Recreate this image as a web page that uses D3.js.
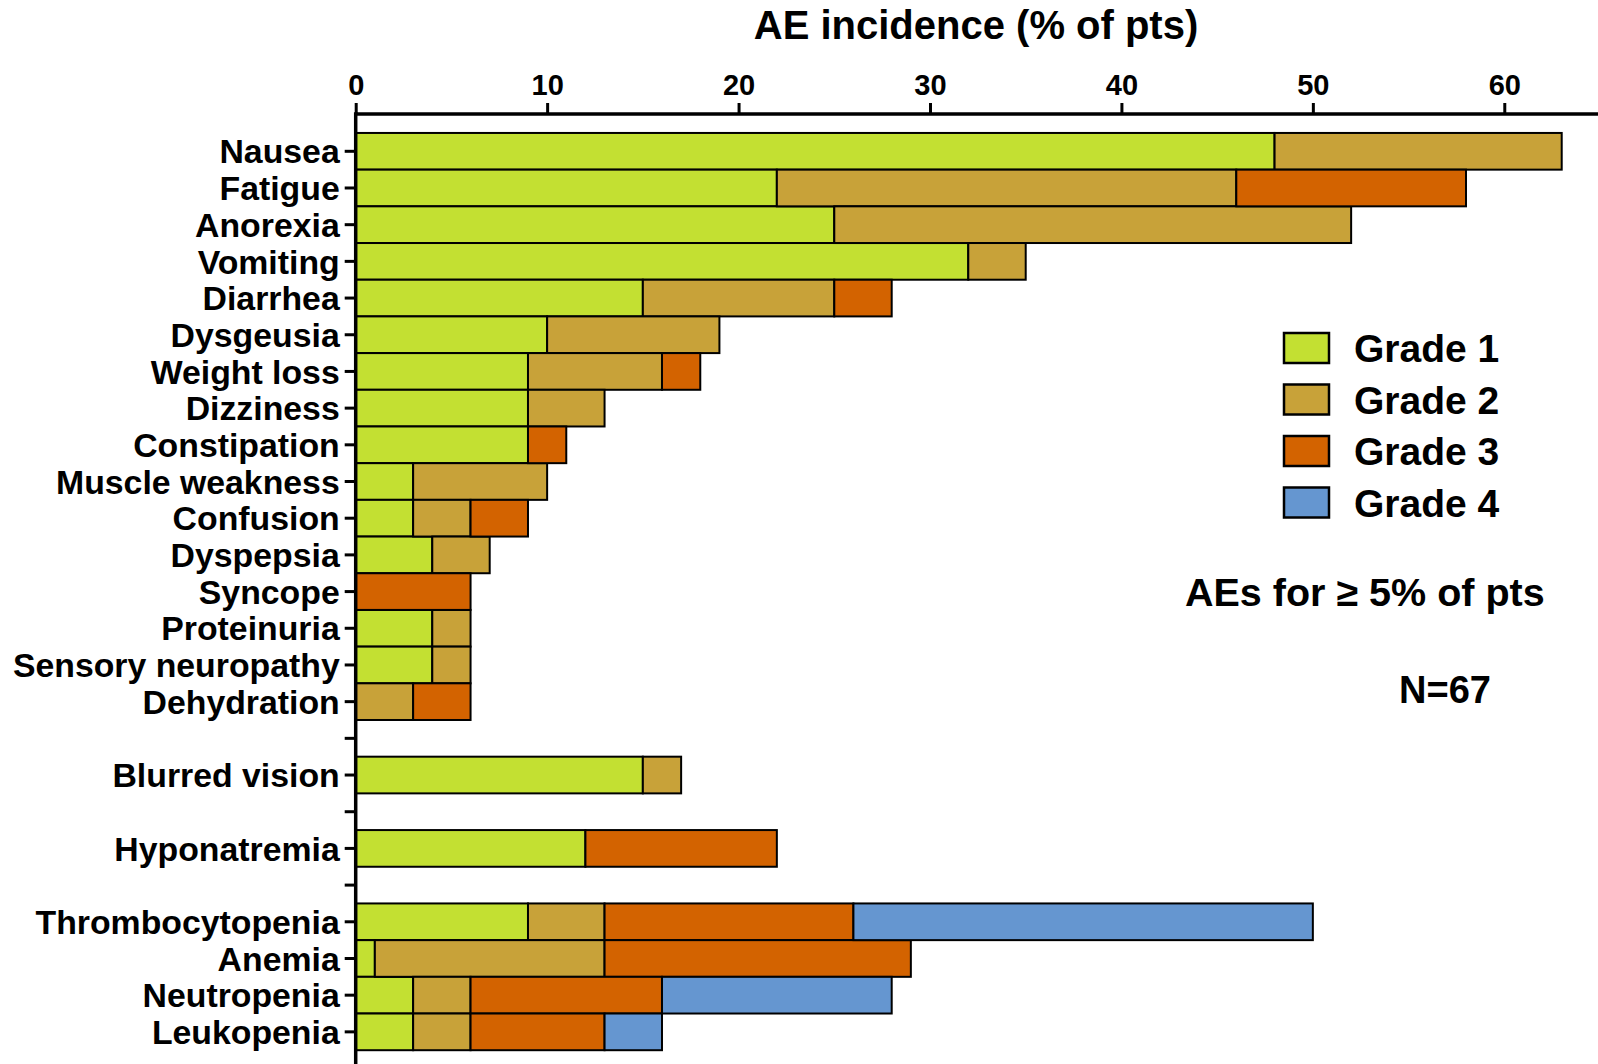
<!DOCTYPE html>
<html>
<head>
<meta charset="utf-8">
<script src="https://cdn.jsdelivr.net/npm/d3@7"></script>
<style>
  html, body { margin: 0; padding: 0; background: #fff; }
  svg { display: block; }
  text { font-family: "Liberation Sans", Arial, Helvetica, sans-serif; font-weight: bold; fill: #000; }
</style>
</head>
<body>
<svg id="chart" width="1598" height="1064"></svg>
<script>
// ---- data ----
const categories = ["Nausea","Fatigue","Anorexia","Vomiting","Diarrhea","Dysgeusia","Weight loss","Dizziness",
  "Constipation","Muscle weakness","Confusion","Dyspepsia","Syncope","Proteinuria","Sensory neuropathy",
  "Dehydration","Blurred vision","Hyponatremia","Thrombocytopenia","Anemia","Neutropenia","Leukopenia"];
// a blank axis slot follows these categories
const gapAfter = ["Dehydration","Blurred vision","Hyponatremia"];
const grade1 = [48,22,25,32,15,10,9,9,9,3,3,4,0,4,4,0,15,12,9,1,3,3];
const grade2 = [15,24,27,3,10,9,7,4,0,7,3,3,0,2,2,3,2,0,4,12,3,3];
const grade3 = [0,12,0,0,3,0,2,0,2,0,3,0,6,0,0,3,0,10,13,16,10,7];
const grade4 = [0,0,0,0,0,0,0,0,0,0,0,0,0,0,0,0,0,0,24,0,12,3];
const seriesNames = ["Grade 1","Grade 2","Grade 3","Grade 4"];
const colors = ["#c3e032","#c8a239","#d36300","#6596d0"];
const xTicks = [0,10,20,30,40,50,60];
const title = "AE incidence (% of pts)";
const note1 = "AEs for \u2265 5% of pts";
const note2 = "N=67";

// ---- build table ----
const gradeArrays = [grade1, grade2, grade3, grade4];
const rows = categories.map((c, i) => {
  const r = {cat: c};
  seriesNames.forEach((s, k) => r[s] = gradeArrays[k][i]);
  return r;
});
const slots = [];
categories.forEach((c, i) => {
  slots.push(c);
  if (gapAfter.includes(c)) slots.push("__gap" + i);
});

const svg = d3.select("#chart");
const x0 = 355.7, axisY = 114;
const slotH = 36.69, firstCenter = 151.3;

const x = d3.scaleLinear().domain([0, 65]).range([x0, 1600]);
const y = d3.scaleBand().domain(slots)
  .range([firstCenter - slotH / 2, firstCenter - slotH / 2 + slotH * slots.length])
  .paddingInner(0).paddingOuter(0);

const stack = d3.stack().keys(seriesNames)(rows);

// bars
svg.append("g").selectAll("g").data(stack).join("g")
  .attr("fill", (d, i) => colors[i])
  .selectAll("rect").data(d => d.filter(p => p[1] - p[0] > 0)).join("rect")
  .attr("x", d => x(d[0]))
  .attr("width", d => x(d[1]) - x(d[0]))
  .attr("y", d => y(d.data.cat))
  .attr("height", y.bandwidth())
  .attr("stroke", "#000")
  .attr("stroke-width", 2);

// top x axis
const xAxis = d3.axisTop(x).tickValues(xTicks).tickSize(11).tickSizeOuter(0).tickPadding(8);
const gx = svg.append("g").attr("transform", `translate(0,${axisY})`).call(xAxis);
gx.select(".domain").remove();
gx.append("line").attr("x1", x0).attr("x2", 1598).attr("y1", 0).attr("y2", 0)
  .attr("stroke", "#000").attr("stroke-width", 3.5);
gx.selectAll(".tick line").attr("stroke", "#000").attr("stroke-width", 3);
gx.selectAll(".tick text").attr("font-size", 29).attr("fill", "#000")
  .attr("font-family", '"Liberation Sans", Arial, sans-serif').attr("font-weight", "bold");

// left y axis
const yAxis = d3.axisLeft(y).tickSize(11).tickSizeOuter(0).tickPadding(5)
  .tickFormat(d => d.startsWith("__gap") ? "" : d);
const gy = svg.append("g").attr("transform", `translate(${x0},0)`).call(yAxis);
gy.select(".domain").remove();
gy.append("line").attr("x1", 0).attr("x2", 0).attr("y1", axisY - 1.75).attr("y2", 1064)
  .attr("stroke", "#000").attr("stroke-width", 3.5);
gy.selectAll(".tick line").attr("stroke", "#000").attr("stroke-width", 3);
gy.selectAll(".tick text").attr("font-size", 33.8).attr("fill", "#000").attr("dy", "0.36em")
  .attr("font-family", '"Liberation Sans", Arial, sans-serif').attr("font-weight", "bold");

// title
svg.append("text").attr("x", 976).attr("y", 39).attr("text-anchor", "middle")
  .attr("font-size", 40).text(title);

// legend
const lg = svg.append("g").attr("transform", "translate(1284,333)");
seriesNames.forEach((s, i) => {
  const g = lg.append("g").attr("transform", `translate(0,${i * 51.5})`);
  g.append("rect").attr("width", 45).attr("height", 30).attr("fill", colors[i])
    .attr("stroke", "#000").attr("stroke-width", 2.5);
  g.append("text").attr("x", 70).attr("y", 29).attr("font-size", 39).text(s);
});

// notes
svg.append("text").attr("x", 1185).attr("y", 606).attr("font-size", 39.5).text(note1);
svg.append("text").attr("x", 1399).attr("y", 703).attr("font-size", 38).text(note2);
</script>
</body>
</html>
